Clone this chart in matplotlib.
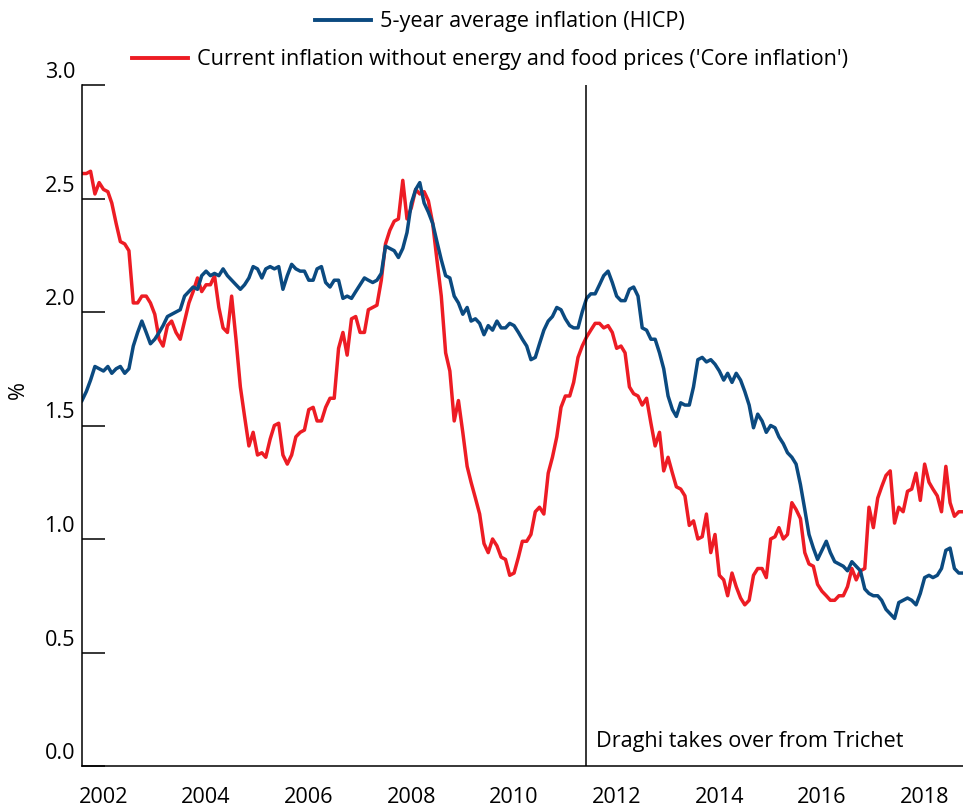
import numpy as np
import pandas as pd
import matplotlib
matplotlib.use('Agg')
import matplotlib.pyplot as plt
import matplotlib.dates as mdates
from matplotlib.lines import Line2D
from matplotlib.transforms import ScaledTranslation

plt.rcParams['font.family'] = ['Open Sans', 'DejaVu Sans']

# monthly data, Aug 2001 - Sep 2018
dates = pd.date_range('2001-08-01', periods=207, freq='MS')

hicp_5y = [
    1.61, 1.65, 1.70, 1.76, 1.75, 1.74, 1.76, 1.73, 1.75, 1.76, 1.73, 1.75, 1.85, 1.91, 1.96, 1.91, 1.86, 1.88,
    1.91, 1.94, 1.98, 1.99, 2.00, 2.01, 2.07, 2.09, 2.11, 2.10, 2.16, 2.18, 2.16, 2.17, 2.16, 2.19, 2.16,
    2.14, 2.12, 2.10, 2.12, 2.15, 2.20, 2.19, 2.15, 2.19, 2.20, 2.19, 2.20, 2.10, 2.16, 2.21, 2.19, 2.18,
    2.18, 2.14, 2.14, 2.19, 2.20, 2.13, 2.11, 2.14, 2.14, 2.06, 2.07, 2.06, 2.09, 2.12, 2.15, 2.14, 2.13,
    2.14, 2.17, 2.29, 2.28, 2.27, 2.24, 2.28, 2.35, 2.48, 2.54, 2.57, 2.48, 2.44, 2.39, 2.31, 2.23, 2.16,
    2.15, 2.07, 2.04, 1.99, 2.02, 1.96, 1.97, 1.95, 1.90, 1.94, 1.92, 1.96, 1.93, 1.93, 1.95, 1.94, 1.91,
    1.88, 1.85, 1.79, 1.80, 1.86, 1.92, 1.96, 1.98, 2.02, 2.01, 1.97, 1.94, 1.93, 1.93, 2.00, 2.06, 2.08,
    2.08, 2.12, 2.16, 2.18, 2.13, 2.07, 2.05, 2.05, 2.10, 2.11, 2.07, 1.93, 1.92, 1.88, 1.88, 1.82,
    1.75, 1.63, 1.57, 1.54, 1.60, 1.59, 1.59, 1.67, 1.79, 1.80, 1.78, 1.79, 1.77, 1.74, 1.70, 1.73, 1.69,
    1.73, 1.70, 1.65, 1.59, 1.49, 1.55, 1.52, 1.47, 1.50, 1.49, 1.45, 1.42, 1.38, 1.36, 1.33, 1.24, 1.13,
    1.02, 0.96, 0.91, 0.95, 0.99, 0.94, 0.90, 0.89, 0.88, 0.86, 0.90, 0.88, 0.86, 0.78, 0.76, 0.75, 0.75,
    0.73, 0.69, 0.67, 0.65, 0.72, 0.73, 0.74, 0.73, 0.71, 0.76, 0.83, 0.84, 0.83, 0.84, 0.87, 0.95, 0.96,
    0.87, 0.85, 0.85,
]

core = [
    2.61, 2.61, 2.62, 2.52, 2.57, 2.54, 2.53, 2.48, 2.39, 2.31, 2.30, 2.27, 2.04, 2.04, 2.07, 2.07, 2.04, 1.99,
    1.88, 1.85, 1.94, 1.96, 1.91, 1.88, 1.96, 2.04, 2.09, 2.15, 2.09, 2.12, 2.12, 2.16, 2.02, 1.93, 1.91,
    2.07, 1.88, 1.67, 1.54, 1.41, 1.47, 1.37, 1.38, 1.36, 1.44, 1.50, 1.51, 1.37, 1.33, 1.37, 1.45, 1.47,
    1.48, 1.57, 1.58, 1.52, 1.52, 1.58, 1.62, 1.62, 1.84, 1.91, 1.81, 1.97, 1.98, 1.91, 1.91, 2.01, 2.02,
    2.03, 2.14, 2.30, 2.36, 2.40, 2.41, 2.58, 2.41, 2.46, 2.54, 2.52, 2.53, 2.49, 2.39, 2.23, 2.07, 1.82,
    1.74, 1.52, 1.61, 1.47, 1.32, 1.25, 1.18, 1.11, 0.98, 0.94, 1.00, 0.97, 0.92, 0.91, 0.84, 0.85, 0.92,
    0.99, 0.99, 1.02, 1.12, 1.14, 1.11, 1.29, 1.36, 1.45, 1.58, 1.63, 1.63, 1.69, 1.80, 1.85, 1.89, 1.92,
    1.95, 1.95, 1.93, 1.94, 1.91, 1.84, 1.85, 1.82, 1.67, 1.64, 1.63, 1.59, 1.62, 1.51, 1.41, 1.47,
    1.30, 1.36, 1.29, 1.23, 1.22, 1.19, 1.06, 1.08, 1.00, 1.01, 1.11, 0.94, 1.02, 0.84, 0.82, 0.75, 0.85,
    0.79, 0.74, 0.71, 0.73, 0.84, 0.87, 0.87, 0.83, 1.00, 1.01, 1.05, 1.00, 1.02, 1.16, 1.13, 1.09, 0.94,
    0.89, 0.88, 0.80, 0.77, 0.75, 0.73, 0.73, 0.75, 0.75, 0.79, 0.87, 0.82, 0.86, 0.87, 1.14, 1.05, 1.18,
    1.23, 1.28, 1.30, 1.07, 1.14, 1.12, 1.21, 1.22, 1.29, 1.17, 1.33, 1.25, 1.22, 1.19, 1.12, 1.32, 1.16,
    1.10, 1.12, 1.12,
]

label_hicp = "5-year average inflation (HICP)"
label_core = "Current inflation without energy and food prices ('Core inflation')"
draghi_date = pd.Timestamp('2011-05-25')
draghi_text = "Draghi takes over from Trichet"

blue = '#0b4a80'
red = '#ed1c24'
fs = 15.6

fig = plt.figure(figsize=(9.63, 8.06), dpi=100)
ax = fig.add_axes([82/963, 40/806, 881/963, 681/806])

ax.plot(dates, core, color=red, lw=2.5, solid_joinstyle='round')
ax.plot(dates, hicp_5y, color=blue, lw=2.5, solid_joinstyle='round')
ax.axvline(draghi_date, color='black', lw=1.1)
ax.annotate(draghi_text, xy=(draghi_date, 0.06), xytext=(10, 0), textcoords='offset pixels',
            fontsize=fs, ha='left', va='bottom')

ax.set_xlim(dates[0], dates[-1])
ax.set_ylim(0, 3.0)
ax.set_yticks(np.arange(0, 3.01, 0.5))
ax.set_yticklabels([f"{v:.1f}" for v in np.arange(0, 3.01, 0.5)])
ax.xaxis.set_major_locator(mdates.YearLocator(2))
ax.xaxis.set_major_formatter(mdates.DateFormatter('%Y'))

for s in ['top', 'right']:
    ax.spines[s].set_visible(False)
for s in ['left', 'bottom']:
    ax.spines[s].set_linewidth(1.1)
ax.tick_params(axis='y', direction='in', length=16.5, width=1.1, pad=5, labelsize=fs)
ax.tick_params(axis='x', length=0, pad=15, labelsize=fs)
# labels sit a little above their tick marks
for lab in ax.get_yticklabels():
    lab.set_transform(lab.get_transform() + ScaledTranslation(0, 0.15, fig.dpi_scale_trans))

fig.text(18/963, 1 - 390/806, '%', rotation=90, fontsize=fs, ha='center', va='center')

h1 = Line2D([], [], color=blue, lw=2.8)
h2 = Line2D([], [], color=red, lw=2.8)
fig.legend([h1], [label_hicp], loc='center', bbox_to_anchor=(500/963, 1 - 22/806), frameon=False,
           fontsize=fs, handlelength=2.6, handletextpad=0.4, borderpad=0, borderaxespad=0)
fig.legend([h2], [label_core], loc='center', bbox_to_anchor=(490/963, 1 - 60/806), frameon=False,
           fontsize=fs, handlelength=2.6, handletextpad=0.4, borderpad=0, borderaxespad=0)

fig.savefig('out.png', dpi=100)
